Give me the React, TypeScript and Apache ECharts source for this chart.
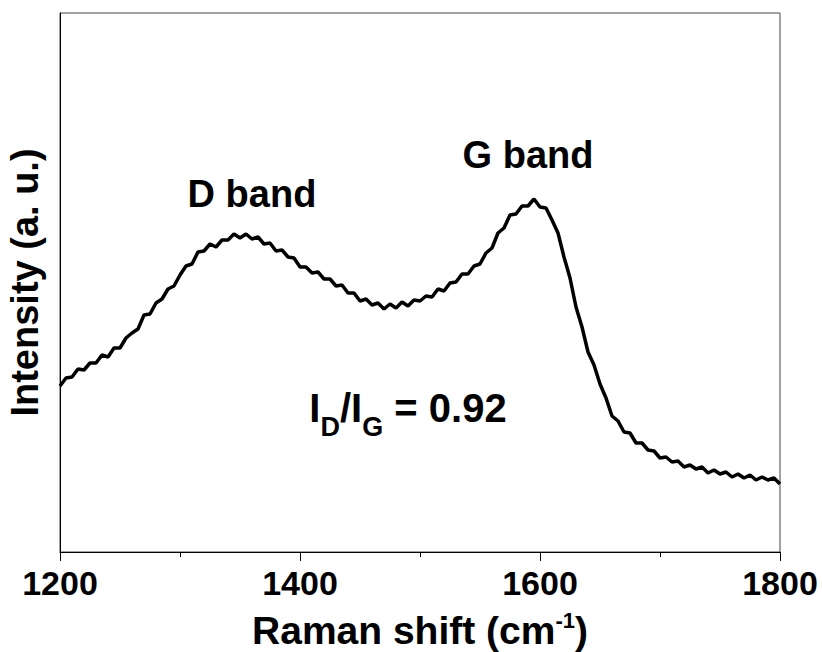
import React, { useEffect, useRef } from "react";
import * as echarts from "echarts";

// Raman shift sampling (cm-1), one point every 5 cm-1
const ramanShift: number[] = [];
for (let s = 1200; s <= 1800; s += 5) ramanShift.push(s);

// Measured intensity (a. u.) at each shift above
const intensity: number[] = [
  166, 174, 175, 183, 182, 189, 189, 197, 195, 204, 204, 214, 219, 223, 237, 238, 249, 253, 263, 266,
  277, 286, 288, 300, 301, 308, 305, 312, 312, 318, 314, 318, 313, 315, 308, 309, 301, 302, 295, 294,
  285, 285, 279, 280, 273, 273, 266, 267, 259, 259, 251, 253, 247, 249, 243, 248, 244, 250, 246, 252,
  251, 256, 255, 263, 261, 269, 270, 278, 278, 286, 288, 299, 304, 319, 324, 337, 338, 346, 346, 353,
  345, 344, 332, 319, 295, 274, 245, 225, 200, 187, 168, 154, 136, 131, 120, 119, 109, 109, 102, 101,
  94, 95, 90, 91, 85, 87, 83, 85, 79, 82, 78, 80, 75, 78, 74, 77, 72, 75, 72, 74,
  68,
];

const xTicks = [1200, 1400, 1600, 1800];
const bandLabels = ["D band", "G band"];
const ratioText = "0.92";

const FONT = "Arial, 'Liberation Sans', Helvetica, sans-serif";

export default function App() {
  const ref = useRef<HTMLDivElement>(null);

  useEffect(() => {
    if (!ref.current) return;
    const chart = echarts.init(ref.current, undefined, { renderer: "svg" });
    const points = ramanShift.map((s, i) => [s, intensity[i]]);

    chart.setOption({
      animation: false,
      backgroundColor: "#ffffff",
      grid: {
        left: 60,
        top: 13,
        right: 42,
        bottom: 100,
        show: true,
        borderColor: "#444",
        borderWidth: 1,
        containLabel: false,
        outerBoundsMode: "none",
      },
      xAxis: {
        type: "value",
        min: xTicks[0],
        max: xTicks[xTicks.length - 1],
        interval: 200,
        axisLine: { onZero: false, lineStyle: { color: "#000", width: 1 } },
        axisTick: { show: true, length: 9, lineStyle: { color: "#000" } },
        minorTick: { show: true, splitNumber: 2, length: 5, lineStyle: { color: "#000" } },
        splitLine: { show: false },
        axisLabel: {
          color: "#000",
          fontFamily: FONT,
          fontWeight: "bold",
          fontSize: 34,
          margin: 14,
          formatter: (v: number) => String(v),
        },
        name: "{b|Raman shift (cm}{sup|-1}{b|)}",
        nameLocation: "middle",
        nameGap: 54,
        nameTextStyle: {
          rich: {
            b: { fontFamily: FONT, fontWeight: "bold", fontSize: 39, color: "#000", lineHeight: 44, verticalAlign: "bottom" },
            sup: { fontFamily: FONT, fontWeight: "bold", fontSize: 22, color: "#000", lineHeight: 44, verticalAlign: "top", padding: [3, 0, 0, 0] },
          },
        },
      },
      yAxis: {
        type: "value",
        min: 0,
        max: 539,
        axisLine: { show: true, lineStyle: { color: "#000", width: 1 } },
        axisTick: { show: false },
        axisLabel: { show: false },
        splitLine: { show: false },
        name: "Intensity (a. u.)",
        nameLocation: "middle",
        nameGap: 16,
        nameTextStyle: { fontFamily: FONT, fontWeight: "bold", fontSize: 38, color: "#000" },
      },
      graphic: [
        {
          type: "text",
          x: 252,
          y: 194,
          style: {
            text: bandLabels[0],
            fontFamily: FONT,
            fontWeight: "bold",
            fontSize: 38,
            fill: "#000",
            align: "center",
            verticalAlign: "middle",
          },
        },
        {
          type: "text",
          x: 528,
          y: 155,
          style: {
            text: bandLabels[1],
            fontFamily: FONT,
            fontWeight: "bold",
            fontSize: 38,
            fill: "#000",
            align: "center",
            verticalAlign: "middle",
          },
        },
        {
          type: "text",
          x: 408,
          y: 414,
          style: {
            text: `{b|I}{s|D}{b|/I}{s|G}{b| = ${ratioText}}`,
            align: "center",
            verticalAlign: "middle",
            rich: {
              b: { fontFamily: FONT, fontWeight: "bold", fontSize: 40, fill: "#000", lineHeight: 52, verticalAlign: "top" },
              s: { fontFamily: FONT, fontWeight: "bold", fontSize: 27, fill: "#000", lineHeight: 52, verticalAlign: "bottom" },
            },
          },
        },
      ],
      series: [
        {
          type: "line",
          data: points,
          showSymbol: false,
          symbol: "none",
          lineStyle: { color: "#000", width: 3.5 },
          clip: true,
        },
      ],
    });

    return () => chart.dispose();
  }, []);

  return (
    <div
      ref={ref}
      style={{ position: "fixed", left: 0, top: 0, width: 822, height: 652, background: "#fff" }}
    />
  );
}
